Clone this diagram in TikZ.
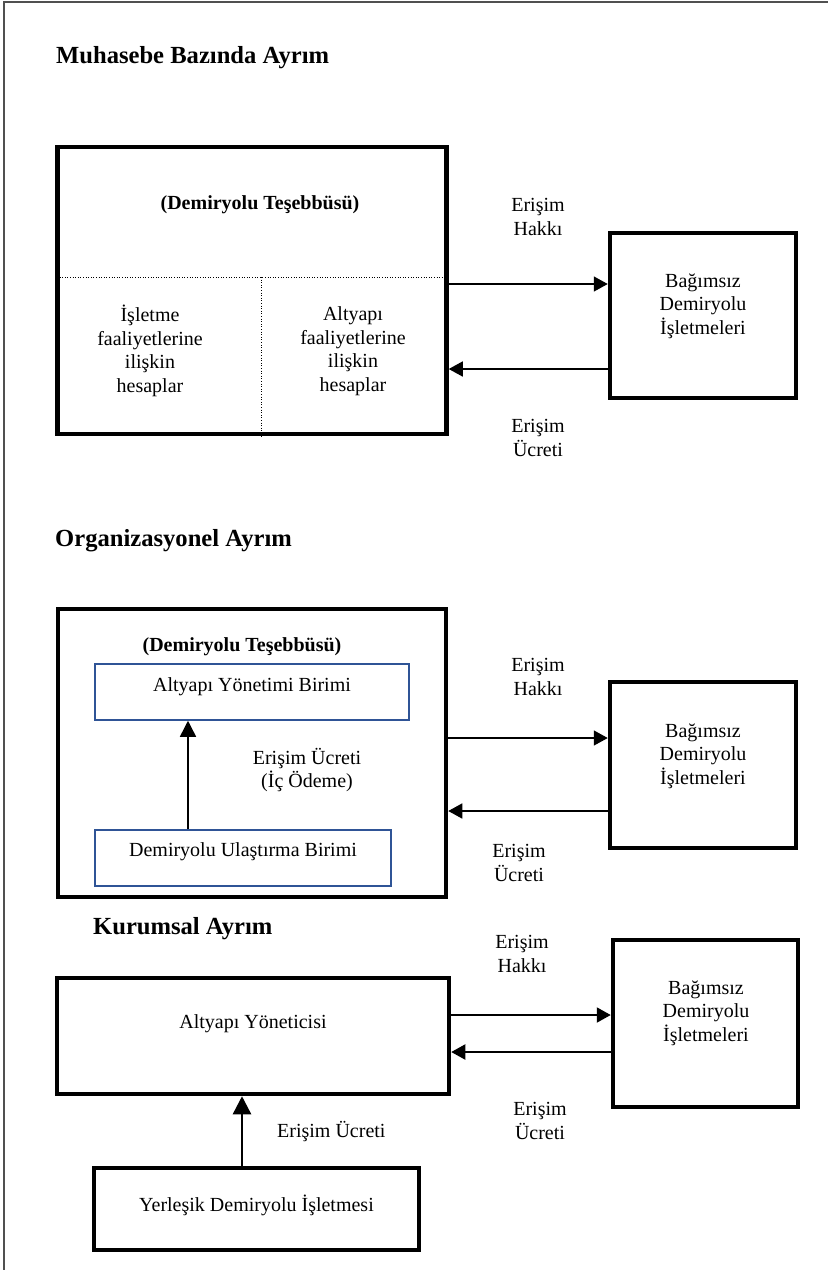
\documentclass[tikz,border=0pt]{standalone}
\usepackage{fontspec}
\setmainfont{Liberation Serif}
\usetikzlibrary{arrows.meta}
\definecolor{boxblue}{RGB}{47,84,150}
\definecolor{framegray}{RGB}{80,80,80}
\begin{document}
\begin{tikzpicture}[x=1pt,y=-1pt,
  titletext/.style={font=\fontsize{24.6}{28}\selectfont\bfseries, anchor=base west, inner sep=0pt},
  txt/.style={font=\fontsize{20}{23.5}\selectfont, align=center, inner sep=0pt},
  btxt/.style={font=\fontsize{20}{23.5}\selectfont\bfseries, align=center, inner sep=0pt},
  thickbox/.style={draw, line width=4.5pt, inner sep=0pt, font=\fontsize{20}{23.5}\selectfont},
  bluebox/.style={draw=boxblue, line width=1.5pt, inner sep=0pt, font=\fontsize{20}{23.5}\selectfont},
  divider/.style={line width=1pt, dash pattern=on 1pt off 1.6pt},
  arr/.style={line width=1.5pt, -{Triangle[length=14pt,width=15pt]}},
  arrb/.style={line width=2pt, -{Triangle[length=14pt,width=15pt]}},
  varr/.style={line width=1.5pt, -{Triangle[length=16pt,width=16pt]}},
  varrb/.style={line width=2.5pt, -{Triangle[length=18pt,width=18pt]}}]
\useasboundingbox (0,0) rectangle (828,1270);
% outer frame (only top and left visible)
\draw[line width=2pt, framegray] (3.5,1270) -- (3.5,1.5) -- (828,1.5);

% ---------------- Section 1 ----------------
\node[titletext] (t1) at (56,63) {Muhasebe Bazında Ayrım};
\node[thickbox, minimum width=389pt, minimum height=287pt] (acc) at (252,290.5) {};
\coordinate (divL) at (57,277);
\coordinate (divM) at (261,277);
\draw[divider] (divL) -- (divL -| acc.east);
\draw[divider] (divM) -- (divM |- acc.south);
\node[btxt] (acct) at (260,205) {(Demiryolu Teşebbüsü)};
\node[txt] (accl) at (150,351) {İşletme\\faaliyetlerine\\ilişkin\\hesaplar};
\node[txt] (accr) at (353,351) {Altyapı\\faaliyetlerine\\ilişkin\\hesaplar};
\node[thickbox, minimum width=186pt, minimum height=165pt] (ind1) at (703,315.5) {};
\node[txt] (ind1t) at (703,306) {Bağımsız\\Demiryolu\\İşletmeleri};
\coordinate (a1) at ([yshift=6.5pt]acc.east);
\coordinate (b1) at ([yshift=-78.5pt]acc.east);
\draw[arr] (a1) -- (a1 -| ind1.west);
\draw[arr] (b1 -| ind1.west) -- (b1);
\node[txt] (h1) at (538,217) {Erişim\\Hakkı};
\node[txt] (u1) at (538,438) {Erişim\\Ücreti};

% ---------------- Section 2 ----------------
\node[titletext] (t2) at (55,546) {Organizasyonel Ayrım};
\node[thickbox, minimum width=388pt, minimum height=288pt] (org) at (252,753) {};
\node[btxt] (orgt) at (242,647) {(Demiryolu Teşebbüsü)};
\node[bluebox, minimum width=314pt, text height=27pt, text depth=29pt] (ab) at (252,692) {Altyapı Yönetimi Birimi};
\node[bluebox, minimum width=296pt, text height=26pt, text depth=30pt] (ub) at (243,858) {Demiryolu Ulaştırma Birimi};
\coordinate (c2) at ([xshift=-55pt]ub.north);
\draw[varr] (c2) -- (c2 |- ab.south);
\node[txt] (ic) at (307,770) {Erişim Ücreti\\(İç Ödeme)};
\node[thickbox, minimum width=186pt, minimum height=166pt] (ind2) at (703,765) {};
\node[txt] (ind2t) at (703,756) {Bağımsız\\Demiryolu\\İşletmeleri};
\coordinate (a2) at ([yshift=15pt]org.east);
\coordinate (b2) at ([yshift=-58pt]org.east);
\draw[arr] (a2) -- (a2 -| ind2.west);
\draw[arr] (b2 -| ind2.west) -- (b2);
\node[txt] (h2) at (538,677) {Erişim\\Hakkı};
\node[txt] (u2) at (519,863) {Erişim\\Ücreti};

% ---------------- Section 3 ----------------
\node[titletext] (t3) at (93,934) {Kurumsal Ayrım};
\node[thickbox, minimum width=392pt, text height=50pt, text depth=66pt] (infra) at (253,1036) {Altyapı Yöneticisi};
\node[thickbox, minimum width=185pt, minimum height=167pt] (ind3) at (705.5,1023.5) {};
\node[txt] (ind3t) at (706,1013) {Bağımsız\\Demiryolu\\İşletmeleri};
\coordinate (a3) at ([yshift=21pt]infra.east);
\coordinate (b3) at ([yshift=-16pt]infra.east);
\draw[arrb] (a3) -- (a3 -| ind3.west);
\draw[arrb] (b3 -| ind3.west) -- (b3);
\node[txt] (h3) at (522,954) {Erişim\\Hakkı};
\node[txt] (u3) at (540,1121) {Erişim\\Ücreti};
\node[thickbox, minimum width=325pt, text height=43pt, text depth=39pt] (inc) at (256.5,1209) {Yerleşik Demiryolu İşletmesi};
\coordinate (c3) at ([xshift=-14.5pt]inc.north);
\draw[varrb] (c3) -- (c3 |- infra.south);
\node[txt, anchor=west] (ic3) at (277,1132) {Erişim Ücreti};
\end{tikzpicture}
\end{document}
